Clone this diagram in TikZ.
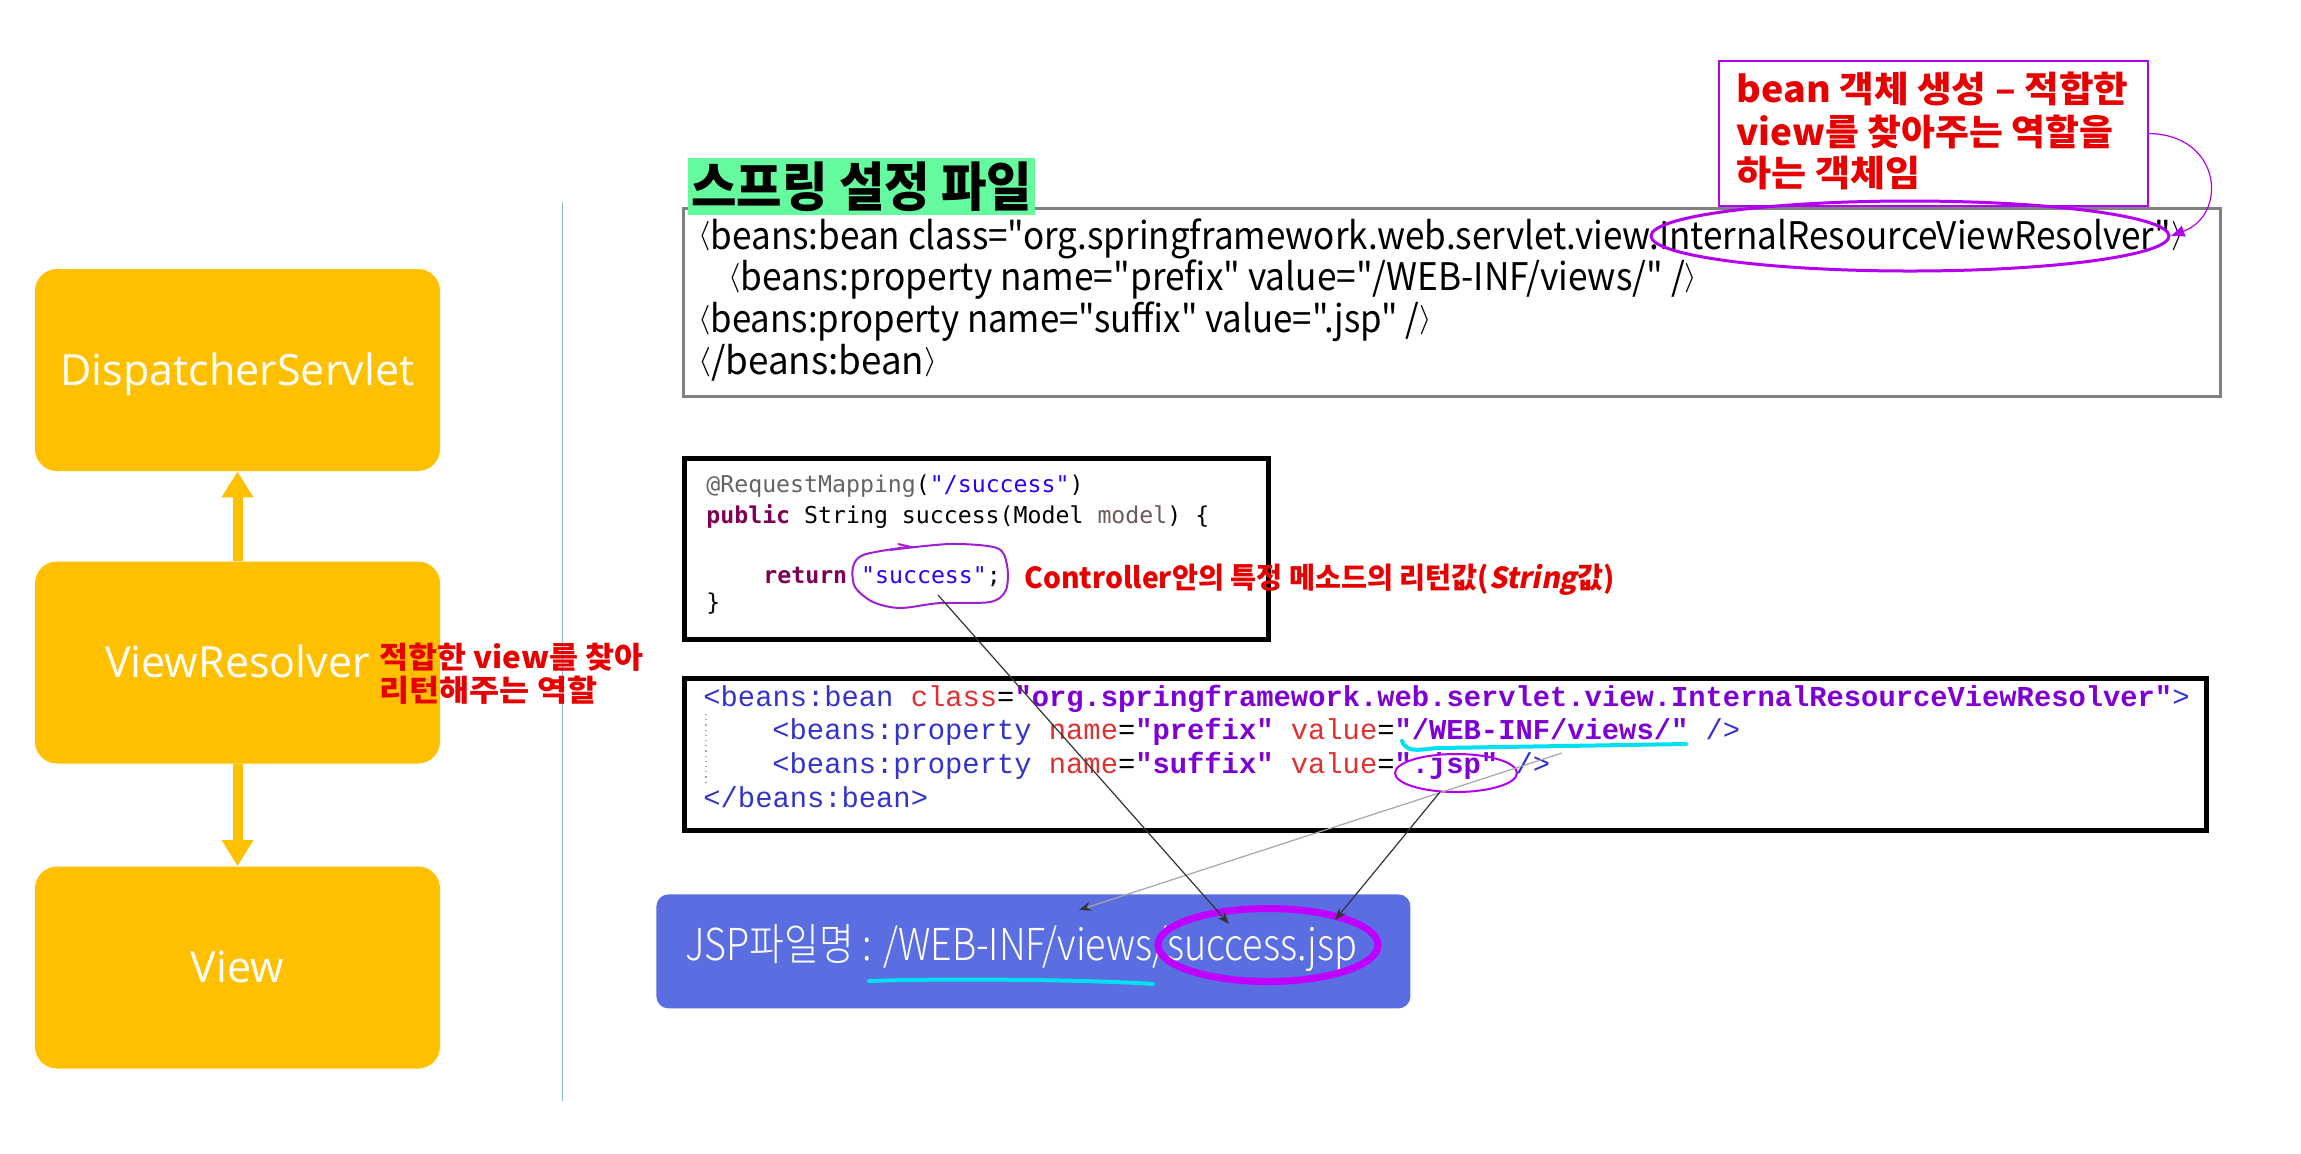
\documentclass[tikz,border=0pt]{standalone}
\usepackage{fontspec}
\usepackage{graphicx}
\usetikzlibrary{arrows.meta,shapes.geometric}
\setmainfont{Noto Sans CJK KR}
\newfontfamily\kr{Noto Sans CJK KR}
\newfontfamily\krsl{Noto Sans CJK KR}[FakeSlant=0.2]
\newfontfamily\krl{Noto Sans CJK KR Light}
\newfontfamily\osans{Open Sans}
\newfontfamily\cmono{DejaVu Sans Mono}
\newfontfamily\xmono{Liberation Mono}
\definecolor{gold}{HTML}{FFC000}
\definecolor{jspblue}{HTML}{5A6DE1}
\definecolor{mint}{HTML}{66FA9E}
\definecolor{vpurple}{HTML}{C000FF}
\definecolor{epurple}{HTML}{B400F0}
\definecolor{hpurple}{HTML}{A020D0}
\definecolor{redtx}{HTML}{E60000}
\definecolor{cyanl}{HTML}{00E0F0}
\definecolor{vline}{HTML}{8EB4E3}
\definecolor{anngray}{HTML}{646464}
\definecolor{strblue}{HTML}{2A00FF}
\definecolor{kwpurple}{HTML}{7F0055}
\definecolor{parcol}{HTML}{6A5A5A}
\definecolor{tagblue}{HTML}{3333CC}
\definecolor{attrred}{HTML}{E03030}
\definecolor{valpurple}{HTML}{7F00D4}
\newsavebox\fitbox
\newcommand\fitw[2]{\sbox\fitbox{#2}\scalebox{\fpeval{(#1)/(\the\wd\fitbox)}}[1]{\usebox\fitbox}}
\newcommand\tg[1]{{\color{tagblue}#1}}
\newcommand\at[1]{{\color{attrred}#1}}
\newcommand\vl[1]{{\color{valpurple}\bfseries#1}}
\newcommand\lab{\raisebox{0.15em}{\scalebox{1}[0.85]{$\langle$}}}
\newcommand\rab{\raisebox{0.15em}{\scalebox{1}[0.85]{$\rangle$}}}
\begin{document}
\begin{tikzpicture}[x=0.5pt,y=-0.5pt,
  goldbox/.style={fill=gold, draw=none, rounded corners=11pt, minimum width=202.5pt,
    minimum height=101pt, text=white, font=\osans\fontsize{21.5}{25}\selectfont,
    text height=15.3pt, text depth=0pt, inner sep=0pt},
  yarrow/.style={draw=gold, line width=5pt, -{Triangle[length=13pt,width=15pt]}},
  redtxt/.style={text=redtx, inner sep=0pt, anchor=west},
  graytxt/.style={text=black, inner sep=0pt, anchor=west, font=\kr\fontsize{19}{22}\selectfont},
  codebox/.style={draw=black, line width=2.25pt, fill=white, anchor=north west, inner sep=0pt},
  cone/.style={inner sep=0pt, anchor=base west, font=\cmono\fontsize{11.6}{14}\selectfont},
  ctwo/.style={inner sep=0pt, anchor=base west, font=\xmono\fontsize{14.4}{17}\selectfont},
  cyanline/.style={draw=cyanl, line width=2pt, line cap=round},
  thinarrow/.style={draw=black!80, line width=0.6pt, -{Stealth[length=6pt,width=4.5pt]}},
  grayarrow/.style={draw=black!35, line width=0.6pt, -{Stealth[length=6pt,width=4.5pt,color=black!80,fill=black!80]}}
]
\useasboundingbox (0,0) rectangle (2301,1153);
\fill[white] (0,0) rectangle (2301,1153);

% left column
\node[goldbox] (ds) at (237.5,370) {DispatcherServlet};
\node[goldbox] (vr) at (237.5,662.5) {ViewResolver};
\node[goldbox] (vw) at (237.5,967.5) {View};
\draw[yarrow] (vr.north) -- (ds.south);
\draw[yarrow] (vr.south) -- (vw.north);

% divider
\draw[vline, line width=0.5pt] (562,202) -- (562,1101);

\node[redtxt] (rs1) at (379,657) {\fitw{132pt}{\kr\bfseries\fontsize{15}{18}\selectfont 적합한 view를 찾아}};
\node[redtxt] (rs2) at (379,690) {\fitw{109pt}{\kr\bfseries\fontsize{15}{18}\selectfont 리턴해주는 역할}};

% spring config box
\node[draw=black!50, line width=1.25pt, anchor=north west, minimum width=768.5pt, minimum height=94pt, inner sep=0pt] (gb) at (682,207) {};
\node[graytxt] (g1) at (698,239) {\fitw{742.5pt}{\lab beans:bean class="org.springframework.web.servlet.view.InternalResourceViewResolver"\rab}};
\node[graytxt] (g2) at (728,280) {\fitw{484.5pt}{\lab beans:property name="prefix" value="/WEB-INF/views/" /\rab}};
\node[graytxt] (g3) at (698,322) {\fitw{366.5pt}{\lab beans:property name="suffix" value=".jsp" /\rab}};
\node[graytxt] (g4) at (698,363) {\fitw{119.5pt}{\lab /beans:bean\rab}};

\node[fill=mint, inner sep=0pt, anchor=north west, minimum width=173.5pt, minimum height=28.5pt] (lbl) at (688,158) {\fitw{170.5pt}{\kr\bfseries\fontsize{26.5}{30}\selectfont 스프링 설정 파일}};

% callout
\node[draw=epurple, fill=white, line width=1pt, minimum width=214.5pt, minimum height=72.5pt, anchor=north west, inner sep=0pt] (co) at (1718,60) {};
\node[redtxt] (co1) at (1736,89) {\fitw{196pt}{\kr\bfseries\fontsize{18}{21}\selectfont bean 객체 생성 – 적합한}};
\node[redtxt] (co2) at (1736,132) {\fitw{188.5pt}{\kr\bfseries\fontsize{18}{21}\selectfont view를 찾아주는 역할을}};
\node[redtxt] (co3) at (1736,173) {\fitw{92pt}{\kr\bfseries\fontsize{18}{21}\selectfont 하는 객체임}};

\node[ellipse, draw=epurple, line width=1.5pt, minimum width=259pt, minimum height=35pt, inner sep=0pt] (e1) at (1910,236) {};
\draw[epurple, line width=0.6pt, -{Latex[length=7pt,width=6pt]}] (co.east) .. controls (2222,135) and (2228,215) .. (e1.east);

% controller code box
\node[codebox, minimum width=292pt, minimum height=90.5pt] (cb1) at (682,456) {};
\node[cone] (c11) at (706,492) {{\color{anngray}@RequestMapping}({\color{strblue}"/success"})};
\node[cone] (c12) at (706,523) {{\color{kwpurple}\bfseries public} String success(Model {\color{parcol}model}) \{};
\node[cone] (c13) at (763,583) {{\color{kwpurple}\bfseries return} {\color{strblue}"success"};};
\node[cone] (c14) at (706,610) {\}};
\draw[hpurple, line width=1pt] plot[smooth] coordinates {(890,550) (950,544) (997,548) (1007,565) (1006,590) (990,602) (940,603) (900,608) (873,602) (855,587) (853,567) (863,555) (900,548) (915,547)};
\draw[hpurple, line width=1pt] (898,544) -- (911,547);
\node[redtxt] (ctl) at (1024,580) {\fitw{295pt}{\kr\bfseries\fontsize{14.5}{16}\selectfont Controller안의 특정 메소드의 리턴값({\krsl\bfseries String}값)}};

% xml code box
\node[codebox, line width=2.5pt, minimum width=761pt, minimum height=76pt] (cb2) at (682,676) {};
\draw[black!35, dotted, line width=0.6pt] (706,714) -- (706,786);
\node[ctwo] (x1) at (703,706) {\tg{<beans:bean} \at{class}=\vl{"org.springframework.web.servlet.view.InternalResourceViewResolver"}\tg{>}};
\node[ctwo] (x2) at (772,739) {\tg{<beans:property} \at{name}=\vl{"prefix"} \at{value}=\vl{"/WEB-INF/views/"} \tg{/>}};
\node[ctwo] (x3) at (772,773) {\tg{<beans:property} \at{name}=\vl{"suffix"} \at{value}=\vl{".jsp"} \tg{/>}};
\node[ctwo] (x4) at (703,807) {\tg{</beans:bean>}};
\draw[cyanline] (1402,741) to[out=-70,in=180] (1440,748) -- (1686,744);
\node[ellipse, draw=epurple, line width=1pt, minimum width=61pt, minimum height=19pt, inner sep=0pt] (e2) at (1456,773) {};

% JSP file name box
\node[fill=jspblue, rounded corners=6pt, anchor=north west, minimum width=377pt, minimum height=57pt, inner sep=0pt] (jsp) at (656,894) {};
\node[inner sep=0pt, anchor=base west, text=white] (jspt) at (685,960) {\fitw{336pt}{\krl\fontsize{22}{24}\selectfont JSP파일명 : /WEB-INF/views/success.jsp}};
\draw[cyanline] (869,981) .. controls (950,978) and (1100,980) .. (1153,984);
\node[ellipse, draw=vpurple, line width=3.5pt, minimum width=110pt, minimum height=36.5pt, inner sep=0pt] (e3) at (1268,945) {};

% connectors
\coordinate (succ) at (938,595);
\coordinate (t1) at (1229,924);
\coordinate (jspb) at (1440,792);
\coordinate (t2) at (1335,920);
\coordinate (g3s) at (1562,753);
\coordinate (t3) at (1079,910);
\draw[grayarrow] (g3s) -- (t3);
\draw[thinarrow] (succ) -- (t1);
\draw[thinarrow] (jspb) -- (t2);
\end{tikzpicture}
\end{document}
